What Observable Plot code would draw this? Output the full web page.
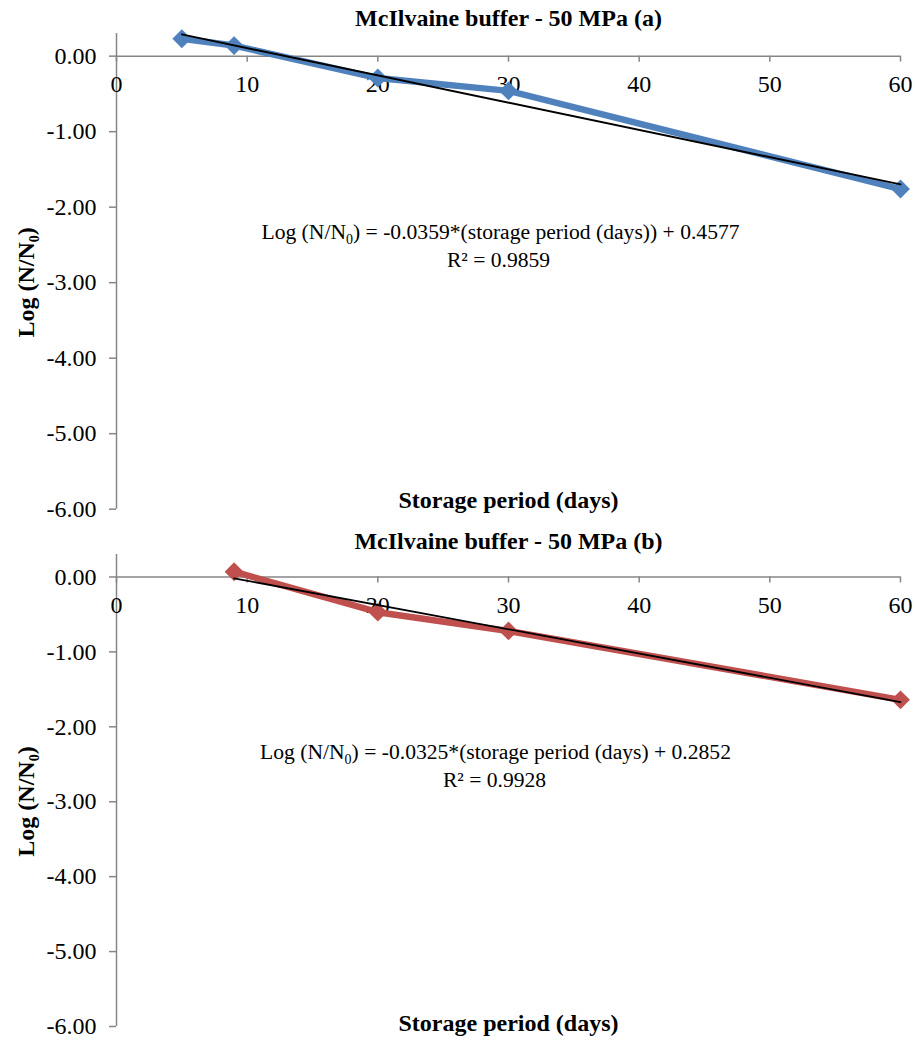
<!DOCTYPE html>
<html><head><meta charset="utf-8">
<script src="https://cdn.jsdelivr.net/npm/d3@7"></script>
<script src="https://cdn.jsdelivr.net/npm/@observablehq/plot@0.6"></script>
<style>
body{margin:0;background:#fff;}
#chart svg{display:block;}
#chart svg text{font-family:'Liberation Serif','Times New Roman',serif;}
</style>
</head><body><div id="chart"></div>
<script>
// ---- data ----
const xTicks = [0, 10, 20, 30, 40, 50, 60];
const yTicks = [0, -1, -2, -3, -4, -5, -6];
const daysA = [5, 9, 20, 30, 60];
const logA = [0.23, 0.14, -0.29, -0.46, -1.76];
const daysB = [9, 20, 30, 60];
const logB = [0.07, -0.47, -0.72, -1.64];
const titles = ["McIlvaine buffer - 50 MPa (a)", "McIlvaine buffer - 50 MPa (b)"];
const equations = [
  "Log (N/N₀) = -0.0359*(storage period (days)) + 0.4577",
  "Log (N/N₀) = -0.0325*(storage period (days) + 0.2852"
];
const r2Labels = ["R² = 0.9859", "R² = 0.9928"];
const xLabel = "Storage period (days)";
const yLabel = "Log (N/N₀)";

// ---- style ----
const FONT = "Liberation Serif";
const GRAY = "#868686";
const COLORS = ["#4F81BD", "#C0504D"];

const panels = [
  {days: daysA, logs: logA, height: 525, mt: 33, mb: 16.3, titleDy: -15, eqDx: -8, eqDy: 199, r2Dx: -10, r2Dy: 227, xlDy: -9},
  {days: daysB, logs: logB, height: 516, mt: 29, mb: 15, titleDy: -13, eqDx: -13, eqDy: 198, r2Dx: -14, r2Dy: 226, xlDy: -3}
];

function subscriptify(svg, size) {
  const ns = "http://www.w3.org/2000/svg";
  svg.querySelectorAll("text").forEach(t => {
    if (t.children.length === 0 && t.textContent.includes("₀")) {
      const parts = t.textContent.split("₀");
      t.textContent = "";
      parts.forEach((p, k) => {
        if (k > 0) {
          const s = document.createElementNS(ns, "tspan");
          s.setAttribute("dy", "5");
          s.setAttribute("font-size", Math.round(size * 0.65));
          s.textContent = "0";
          t.appendChild(s);
          const r = document.createElementNS(ns, "tspan");
          r.setAttribute("dy", "-5");
          r.textContent = p;
          t.appendChild(r);
        } else {
          t.appendChild(document.createTextNode(p));
        }
      });
    }
  });
}

panels.forEach((P, i) => {
  const data = P.days.map((d, k) => ({day: d, log: P.logs[k]}));
  const T = {fontFamily: FONT, fill: "black"};
  const plot = Plot.plot({
    width: 915, height: P.height,
    marginLeft: 116, marginRight: 15, marginTop: P.mt, marginBottom: P.mb,
    x: {domain: [0, 60], axis: null},
    y: {domain: [-6, 0.3], axis: null},
    style: {fontFamily: FONT, background: "white", color: "black", overflow: "visible"},
    marks: [
      Plot.ruleX([0], {stroke: GRAY, strokeWidth: 1.5}),
      Plot.ruleY([0], {stroke: GRAY, strokeWidth: 1.5}),
      Plot.ruleX(xTicks, {x: d => d, y1: 0, y2: 0, insetBottom: -6, stroke: GRAY, strokeWidth: 1.5}),
      Plot.axisY(yTicks, {text: null, tickSize: 7, stroke: GRAY, strokeWidth: 1.5, label: null}),
      Plot.axisY(yTicks, {tickSize: 0, tickPadding: 20, tickFormat: d => d.toFixed(2), fontSize: 24, label: null, ...T}),
      Plot.text(xTicks, {x: d => d, y: 0, dy: 28.5, text: d => String(d), fontSize: 24, ...T}),
      Plot.line(data, {x: "day", y: "log", stroke: COLORS[i], strokeWidth: 6.5, strokeLinejoin: "round"}),
      Plot.dot(data, {x: "day", y: "log", symbol: "diamond2", r: 8.5, fill: COLORS[i]}),
      Plot.linearRegressionY(data, {x: "day", y: "log", stroke: "black", strokeWidth: 1.8, ci: 0}),
      Plot.text([titles[i]], {text: d => d, frameAnchor: "top", lineAnchor: "middle", dy: P.titleDy, fontSize: 24, fontWeight: "bold", ...T}),
      Plot.text([equations[i]], {text: d => d, frameAnchor: "top", lineAnchor: "middle", dx: P.eqDx, dy: P.eqDy, fontSize: 21.6, ...T}),
      Plot.text([r2Labels[i]], {text: d => d, frameAnchor: "top", lineAnchor: "middle", dx: P.r2Dx, dy: P.r2Dy, fontSize: 21.6, ...T}),
      Plot.text([xLabel], {text: d => d, frameAnchor: "bottom", lineAnchor: "middle", dy: P.xlDy, fontSize: 24, fontWeight: "bold", ...T}),
      Plot.text([yLabel], {text: d => d, frameAnchor: "left", textAnchor: "middle", lineAnchor: "middle", rotate: -90, dx: -90, dy: 11, fontSize: 24, fontWeight: "bold", ...T})
    ]
  });
  subscriptify(plot, 22);
  document.getElementById("chart").appendChild(plot);
});
</script>
</body></html>
